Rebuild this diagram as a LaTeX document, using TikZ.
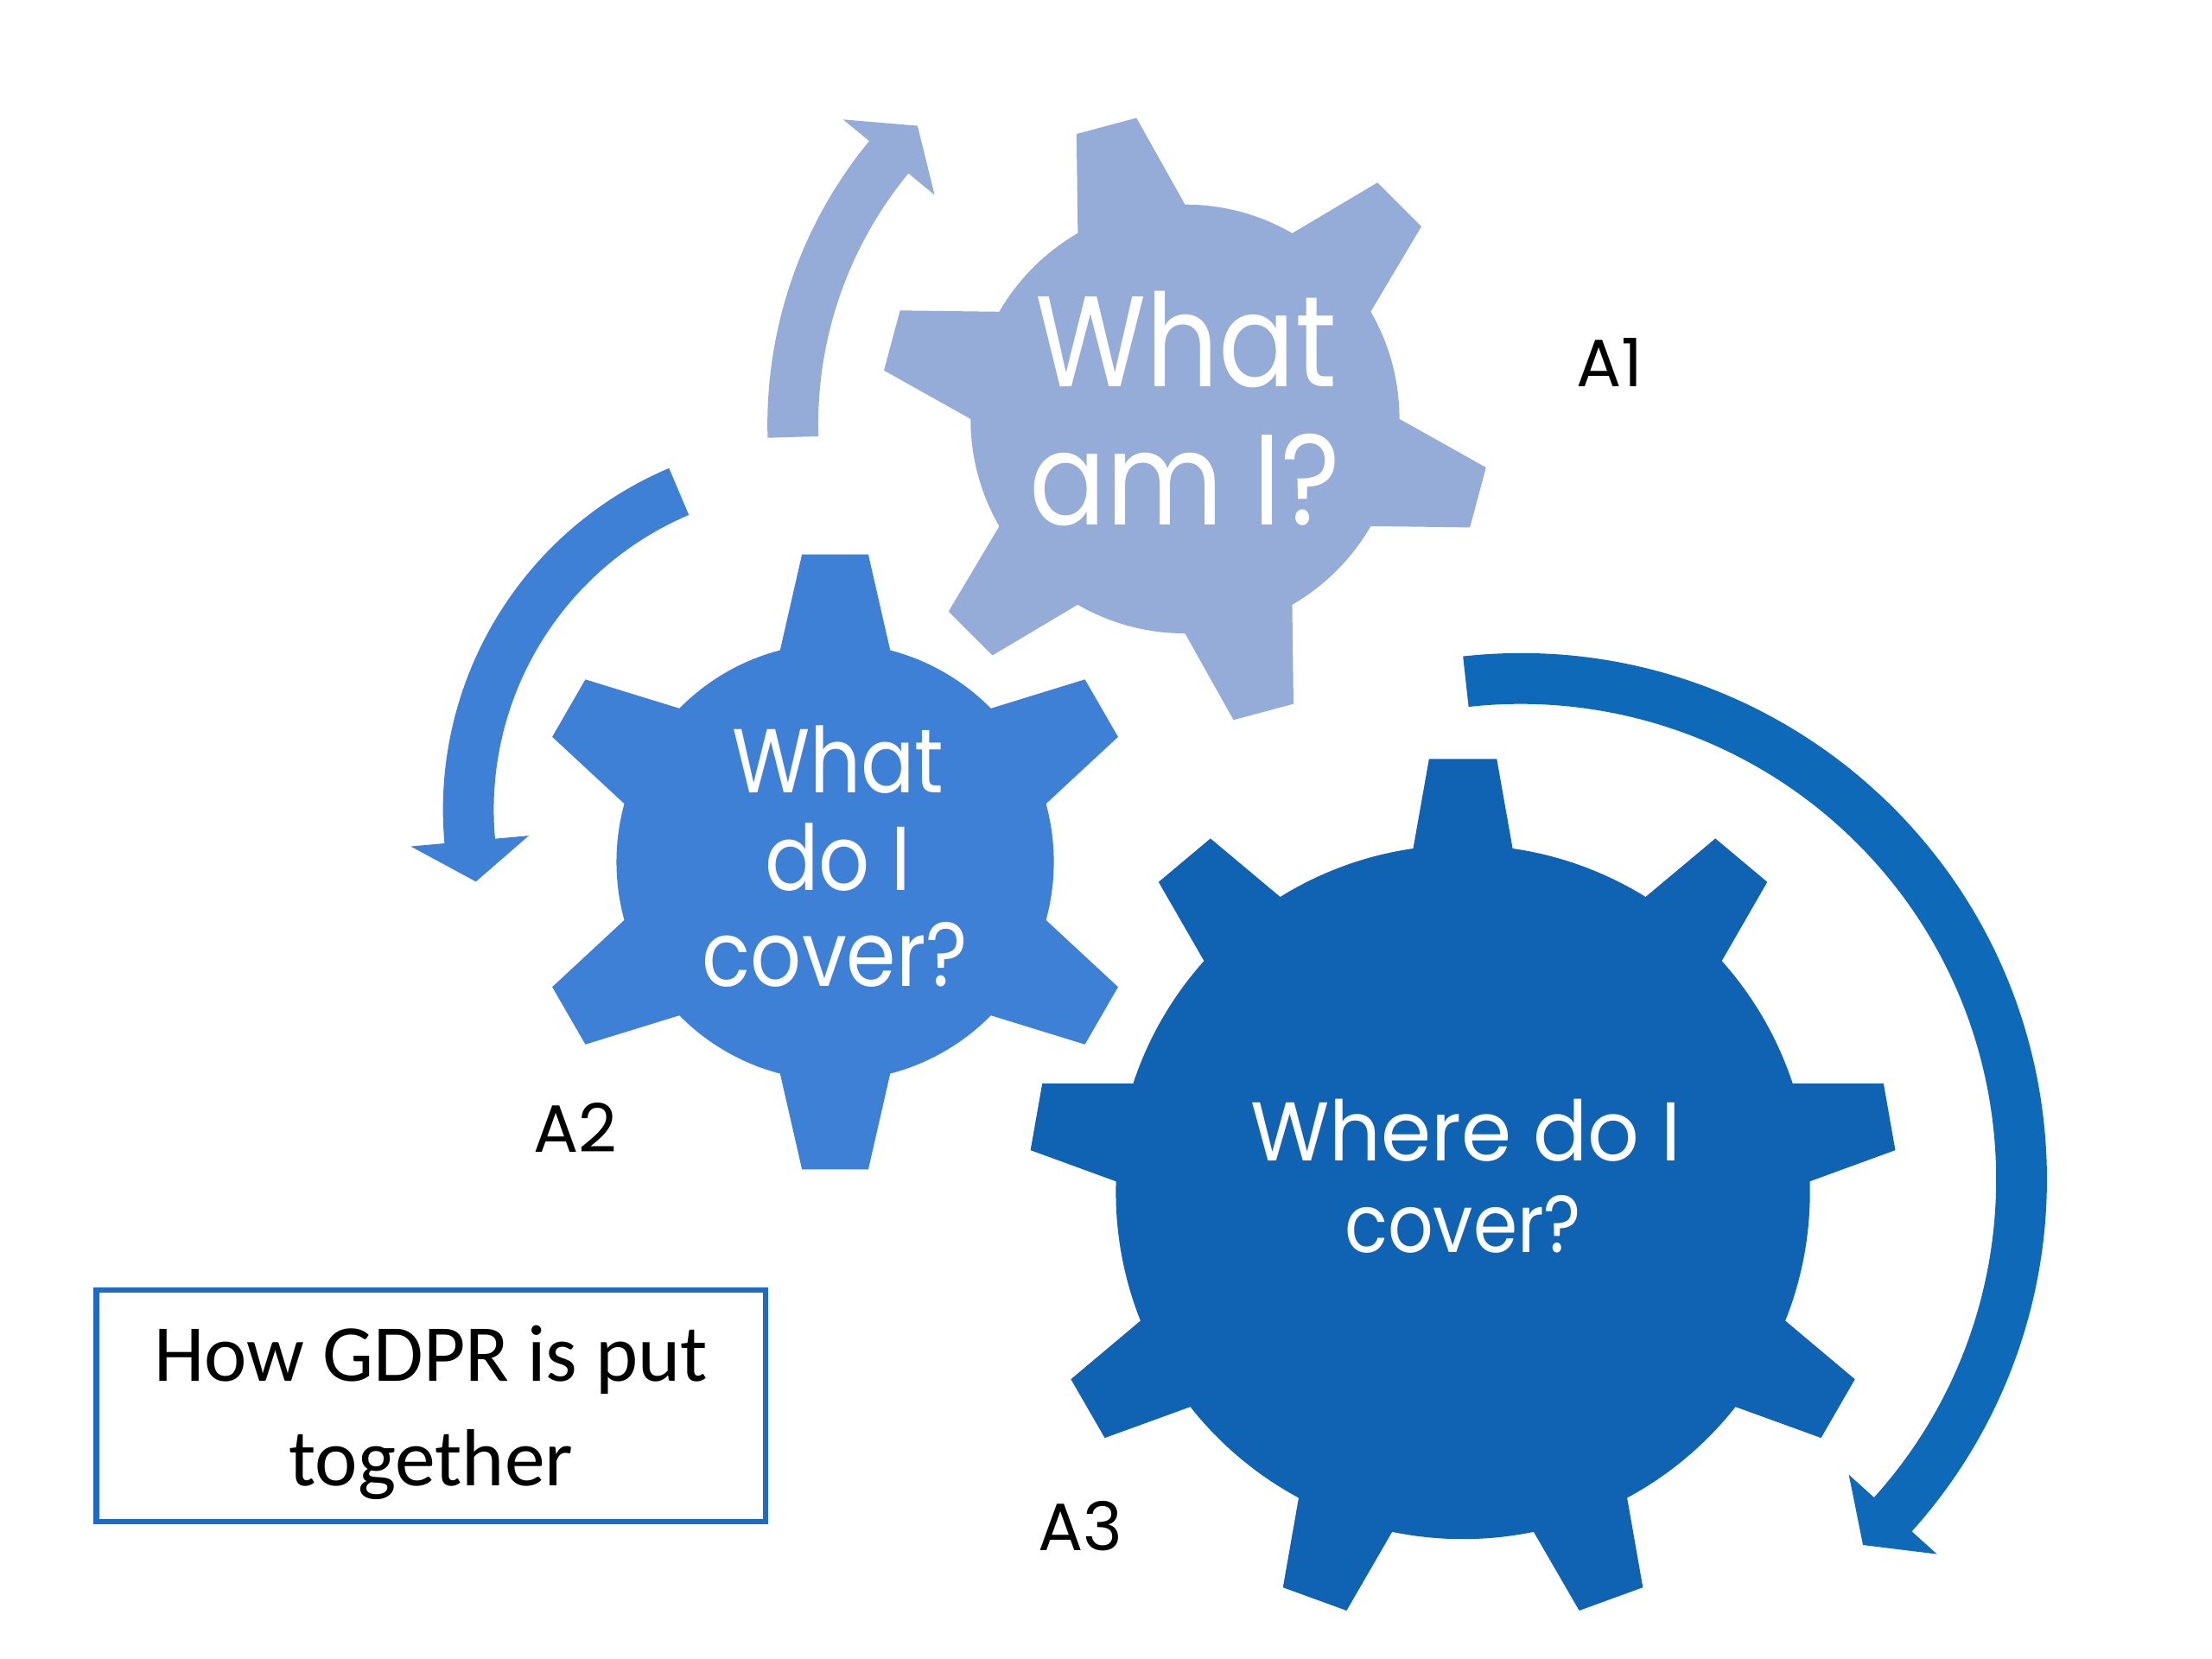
\documentclass[tikz,border=0pt]{standalone}
\usepackage{fontspec}
\setmainfont{Poppins}
\newfontfamily\gearfont{Poppins}[FakeStretch=0.88]
\newfontfamily\gearwidefont{Poppins}[FakeStretch=0.97]
\newfontfamily\calib{Carlito}
\definecolor{gA}{HTML}{95ACD8}
\definecolor{gB}{HTML}{3F80D7}
\definecolor{gC}{HTML}{1062B2}
\definecolor{arC}{HTML}{0E69B9}
\definecolor{boxblue}{HTML}{1F6BC4}
\newcommand\gearArrow[6]{%
  \fill[#6, shift={#1}] (#3:#2+18) arc[start angle=#3, end angle=#4, radius=#2+18]
    -- (#4:#2+42) -- (#5:#2) -- (#4:#2-42) -- (#4:#2-18)
    arc[start angle=#4, end angle=#3, radius=#2-18] -- cycle;}
\newcommand\gearShape[9]{%
  \begin{scope}[shift={#1}]
    \fill[#9] (0,0) circle[radius=#2];
    \foreach \k in {1,...,#3} {
      \fill[#9, rotate={#4+360/#3*(\k-1)}] (#5,-#6) -- (#7,-#8) -- (#7,#8) -- (#5,#6) -- cycle;
    }
  \end{scope}}
\begin{document}
\begin{tikzpicture}[x=0.01cm,y=0.01cm,
  geartext/.style={text=white, anchor=base, inner sep=0pt},
  lbl/.style={text=black, anchor=base, inner sep=0pt, font=\fontsize{13.5}{16}\selectfont},
  boxtext/.style={text=black, anchor=base, inner sep=0pt, font=\calib\fontsize{16.3}{20}\selectfont}]
\fill[white] (0,0) rectangle (1568,1176);
\useasboundingbox (0,0) rectangle (1568,1176);

% circular arrows
\gearArrow{(860,875)}{298}{181.7}{140.5}{134.7}{gA}
\gearArrow{(577,602)}{245}{113}{185.2}{192}{gB}
\gearArrow{(1078,340)}{355}{96.3}{-42}{-46.9}{arC}

% gears
\gearShape{(840,879)}{152}{6}{105}{130}{43.6}{215}{22}{gA}
\gearShape{(592,565)}{155}{6}{90}{130}{43.6}{218}{23.5}{gB}
\gearShape{(1037,331)}{246}{9}{90}{228}{38}{307}{24}{gC}

% gear texts
\node (g1a) [geartext, font=\gearfont\fontsize{26}{28}\selectfont] at (841,902) {What};
\node (g1b) [geartext, font=\gearfont\fontsize{26}{28}\selectfont] at (840,804) {am I?};
\node (g2a) [geartext, font=\gearfont\fontsize{18.3}{20}\selectfont] at (594,614) {What};
\node (g2b) [geartext, font=\gearfont\fontsize{18.3}{20}\selectfont] at (594,545) {do I};
\node (g2c) [geartext, font=\gearfont\fontsize{18.3}{20}\selectfont] at (592,477) {cover?};
\node (g3a) [geartext, font=\gearwidefont\fontsize{16.8}{18}\selectfont] at (1039,353) {Where do I};
\node (g3b) [geartext, font=\gearfont\fontsize{16.3}{18}\selectfont] at (1037,288) {cover?};

% labels
\node (la1) [lbl] at (1141,902) {A1};
\node (la2) [lbl] at (408,359) {A2};
\node (la3) [lbl] at (766,77) {A3};

% title box
\node (box) [draw=boxblue, line width=1.1pt, minimum width=4.74cm, minimum height=1.64cm, inner sep=0pt] at (305.5,179.5) {};
\node (bt1) [boxtext] at (305.5,197) {How GDPR is put};
\node (bt2) [boxtext] at (305.5,123) {together};
\end{tikzpicture}
\end{document}
